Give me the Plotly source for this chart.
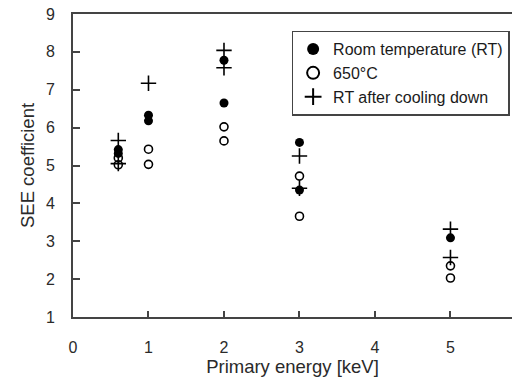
import plotly.graph_objects as go

# Data
rt_x = [0.6, 0.6, 1, 1, 2, 2, 3, 3, 5]
rt_y = [5.42, 5.32, 6.33, 6.18, 7.78, 6.65, 5.61, 4.35, 3.09]

ht_x = [0.6, 0.6, 1, 1, 2, 2, 3, 3, 5, 5]
ht_y = [5.20, 5.02, 5.43, 5.03, 6.02, 5.65, 4.72, 3.66, 2.35, 2.03]

cd_x = [0.6, 0.6, 1, 2, 2, 3, 3, 5, 5]
cd_y = [5.66, 5.05, 7.17, 8.04, 7.58, 5.25, 4.40, 3.32, 2.57]

names = ["Room temperature (RT)", "650°C", "RT after cooling down"]
x_ticks = [0, 1, 2, 3, 4, 5]
y_ticks = [1, 2, 3, 4, 5, 6, 7, 8, 9]

FONT = "Liberation Sans, Arial, sans-serif"
AX = "#444444"
TXT = "#2a2a2a"

fig = go.Figure()
fig.add_trace(go.Scatter(x=rt_x, y=rt_y, mode="markers", name=names[0],
                         marker=dict(symbol="circle", size=9, color="black")))
fig.add_trace(go.Scatter(x=ht_x, y=ht_y, mode="markers", name=names[1],
                         marker=dict(symbol="circle-open", size=8, color="black",
                                     line=dict(width=1.6, color="black"))))
fig.add_trace(go.Scatter(x=cd_x, y=cd_y, mode="markers", name=names[2],
                         marker=dict(symbol="cross-thin-open", size=11, color="black",
                                     line=dict(width=1.6, color="black"))))

fig.update_layout(
    width=512, height=384,
    margin=dict(l=73, r=0, t=14, b=67, autoexpand=False),
    paper_bgcolor="white", plot_bgcolor="white",
    font=dict(family=FONT, size=16, color=TXT),
    showlegend=True,
    legend=dict(x=0.498, y=0.945, xanchor="left", yanchor="top",
                bgcolor="white", bordercolor=AX, borderwidth=1.5,
                font=dict(size=16, color="#1a1a1a"),
                itemsizing="constant", tracegroupgap=0,
                itemwidth=30),
    xaxis=dict(range=[0, 5.815], tickvals=x_ticks, ticks="inside", ticklen=6,
               tickcolor=AX, tickwidth=1.5, showgrid=False, zeroline=False,
               showline=True, linecolor=AX, linewidth=1.8, mirror=True,
               ticklabelstandoff=15, tickfont=dict(size=16),
               title=dict(text="Primary energy [keV]", standoff=5,
                          font=dict(size=18.5, color=TXT))),
    yaxis=dict(range=[1, 9], tickvals=y_ticks, ticks="inside", ticklen=7,
               tickcolor=AX, tickwidth=1.5, showgrid=False, zeroline=False,
               showline=True, linecolor=AX, linewidth=1.8,
               ticklabelstandoff=13, tickfont=dict(size=16),
               title=dict(text="SEE coefficient", standoff=7,
                          font=dict(size=18.5, color=TXT))),
)

fig.write_html("out.html")
